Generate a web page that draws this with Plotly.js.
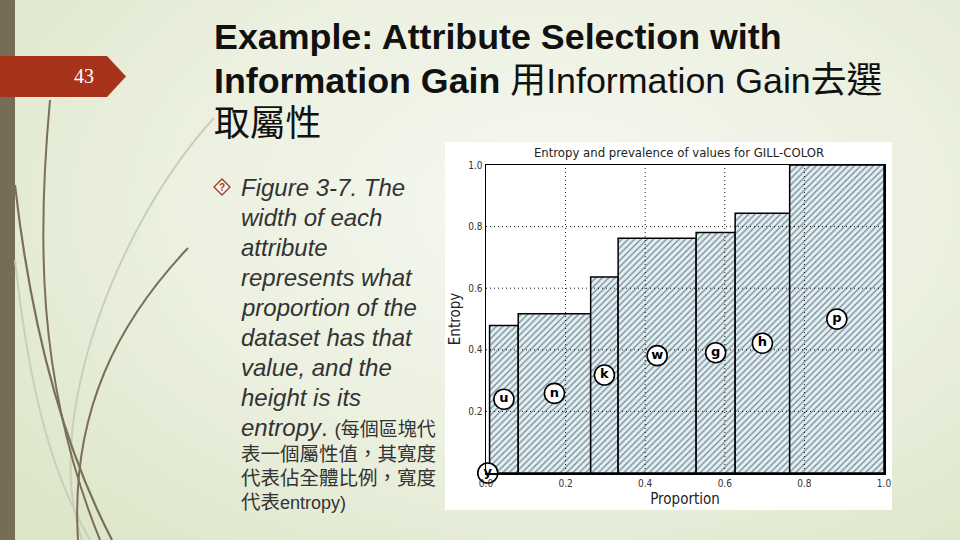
<!DOCTYPE html>
<html>
<head>
<meta charset="utf-8">
<script src="https://cdn.plot.ly/plotly-3.0.1.min.js"></script>
<style>
  html, body { margin: 0; padding: 0; }
  body {
    width: 960px; height: 540px; overflow: hidden;
    background: radial-gradient(ellipse 75% 85% at 58% 38%, #f6f8f0 0%, #ebf0df 55%, #dce5c8 100%);
  }
  #chart { width: 960px; height: 540px; }
</style>
</head>
<body>
<div id="chart"></div>
<script>
// values of GILL-COLOR, their share of the dataset and their entropy
const values = ['y', 'u', 'n', 'k', 'w', 'g', 'h', 'p'];
const proportion = [0.009, 0.072, 0.182, 0.069, 0.196, 0.098, 0.137, 0.237];
const entropy = [0.0, 0.479, 0.517, 0.636, 0.762, 0.781, 0.843, 1.0];

const xTicks = [0, 0.2, 0.4, 0.6, 0.8, 1.0];
const xTickText = ['0.0', '0.2', '0.4', '0.6', '0.8', '1.0'];
const yTicks = [0.2, 0.4, 0.6, 0.8, 1.0];
const yTickText = ['0.2', '0.4', '0.6', '0.8', '1.0'];
const gridVals = [0.2, 0.4, 0.6, 0.8];

const slideTitle = [
  '<b>Example: Attribute Selection with</b>',
  '<b>Information Gain</b> 用Information Gain去選',
  '取屬性'
];
const bodyLines = [
  '<i>Figure 3-7. The</i>',
  '<i>width of each</i>',
  '<i>attribute</i>',
  '<i>represents what</i>',
  '<i>proportion of the</i>',
  '<i>dataset has that</i>',
  '<i>value, and the</i>',
  '<i>height is its</i>',
  '<i>entropy</i>. <span style="font-size:19px">(每個區塊代</span>'
];
const bodyCjk = ['表一個屬性值，其寬度', '代表佔全體比例，寬度', '代表<span style="font-size:18px">entropy)</span>'];

// pixel -> paper helpers (figure is 960x540, no margins)
const X = px => px / 960;
const Y = py => 1 - py / 540;
const pathPx = s => s.replace(/(-?\d+\.?\d*),(-?\d+\.?\d*)/g, (m, a, b) => X(+a) + ',' + Y(+b));

// bar positions come from the running sum of proportions
let acc = 0;
const centers = proportion.map(p => { const c = acc + p / 2; acc += p; return c; });
const labelY = entropy.map(e => e / 2);

const gx = [], gy = [];
gridVals.forEach(v => { gx.push(v, v, null); gy.push(0, 1, null); });
gridVals.forEach(v => { gx.push(0, 1, null); gy.push(v, v, null); });

const narrow = '"Liberation Sans Narrow", "DejaVu Sans Condensed", "Arial Narrow", sans-serif';
const sans = '"Liberation Sans", Arial, "Noto Sans CJK TC", sans-serif';

const bars = {
  type: 'bar',
  x: centers,
  y: entropy,
  width: proportion,
  marker: {
    color: '#e0f0f6',
    pattern: { shape: '/', fgcolor: '#7a8a90', bgcolor: '#e0f0f6', size: 4.5, solidity: 0.3 },
    line: { color: '#000', width: 1.5 }
  },
  hoverinfo: 'skip'
};

const grid = {
  type: 'scatter',
  mode: 'lines',
  x: gx,
  y: gy,
  line: { color: '#111', width: 1, dash: '1px,3px' },
  hoverinfo: 'skip'
};

const labels = {
  type: 'scatter',
  mode: 'markers+text',
  x: centers,
  y: labelY,
  text: values,
  textposition: 'middle center',
  textfont: { family: '"DejaVu Sans", sans-serif', size: 13, weight: 'bold', color: '#000' },
  marker: { size: 20, color: '#fff', line: { color: '#000', width: 1.6 } },
  cliponaxis: false,
  hoverinfo: 'skip'
};

const shapes = [
  // slide decoration
  { type: 'rect', xref: 'paper', yref: 'paper', x0: X(0), x1: X(15), y0: Y(540), y1: Y(0),
    fillcolor: '#776c55', line: { width: 0 }, layer: 'below' },
  { type: 'path', xref: 'paper', yref: 'paper', path: pathPx('M214,118 C120,220 40,420 82,540'),
    line: { color: '#c9cfbb', width: 2 }, layer: 'below' },
  { type: 'path', xref: 'paper', yref: 'paper', path: pathPx('M15,260 C30,400 55,480 90,540'),
    line: { color: '#c9cfbb', width: 2 }, layer: 'below' },
  { type: 'path', xref: 'paper', yref: 'paper', path: pathPx('M50,100 C38,230 35,380 100,540'),
    line: { color: '#7a6f57', width: 2 }, layer: 'below' },
  { type: 'path', xref: 'paper', yref: 'paper', path: pathPx('M15,185 C28,300 55,430 112,540'),
    line: { color: '#7a6f57', width: 2.2 }, layer: 'below' },
  { type: 'path', xref: 'paper', yref: 'paper', path: pathPx('M188,248 C120,320 70,410 78,540'),
    line: { color: '#7a6f57', width: 2 }, layer: 'below' },
  { type: 'path', xref: 'paper', yref: 'paper', path: pathPx('M0,56 L107,56 L126,76.5 L107,97 L0,97 Z'),
    fillcolor: '#a8331b', line: { width: 0 }, layer: 'below' },
  // bullet
  { type: 'path', xref: 'paper', yref: 'paper', path: pathPx('M222,179 L230,187 L222,195 L214,187 Z'),
    fillcolor: '#fdf3ee', line: { color: '#9b3b26', width: 1.3 }, layer: 'below' },
  // white picture frame behind the chart
  { type: 'rect', xref: 'paper', yref: 'paper', x0: X(445), x1: X(892), y0: Y(510), y1: Y(142),
    fillcolor: '#ffffff', line: { width: 0 }, layer: 'below' }
];

const annotations = [
  { text: '43', x: X(84), y: Y(76), font: { family: '"Liberation Serif", serif', size: 20, color: '#fff' } },
  { text: '?', x: X(222), y: Y(187.5), font: { family: sans, size: 10, color: '#9b3b26', weight: 'bold' } }
];
const titleY = [37, 81, 124];
slideTitle.forEach((t, i) => annotations.push({
  text: t, x: X(212), y: Y(titleY[i]), xanchor: 'left',
  font: { family: sans, size: 35.8, color: '#111' }
}));
bodyLines.forEach((t, i) => annotations.push({
  text: t, x: X(239), y: Y(187 + 30 * i), xanchor: 'left',
  font: { family: sans, size: 24, color: '#333' }
}));
const cjkY = [454, 478, 502];
bodyCjk.forEach((t, i) => annotations.push({
  text: t, x: X(239), y: Y(cjkY[i]), xanchor: 'left',
  font: { family: sans, size: 19.5, color: '#333' }
}));
annotations.forEach(a => {
  a.xref = 'paper'; a.yref = 'paper'; a.showarrow = false;
  if (!a.xanchor) a.xanchor = 'center';
  a.yanchor = 'middle';
});

const layout = {
  width: 960,
  height: 540,
  margin: { l: 0, r: 0, t: 0, b: 0 },
  paper_bgcolor: 'rgba(0,0,0,0)',
  plot_bgcolor: '#ffffff',
  showlegend: false,
  bargap: 0,
  title: {
    text: 'Entropy and prevalence of values for GILL-COLOR',
    x: X(679), y: Y(152), xanchor: 'center', yanchor: 'middle',
    font: { family: narrow, size: 13, color: '#222' }
  },
  xaxis: {
    domain: [X(486), X(884)],
    range: [0, 1],
    tickvals: xTicks,
    ticktext: xTickText,
    ticks: '',
    showgrid: false,
    zeroline: false,
    showline: true,
    mirror: true,
    linecolor: '#000',
    linewidth: 1.5,
    tickfont: { family: narrow, size: 10, color: '#333' },
    title: { text: 'Proportion', font: { family: narrow, size: 15, color: '#222' }, standoff: 6 },
    fixedrange: true
  },
  yaxis: {
    domain: [Y(473), Y(165)],
    range: [0, 1],
    tickvals: yTicks,
    ticktext: yTickText,
    ticks: '',
    showgrid: false,
    zeroline: false,
    showline: true,
    mirror: true,
    linecolor: '#000',
    linewidth: 1.5,
    tickfont: { family: narrow, size: 10, color: '#333' },
    title: { text: 'Entropy', font: { family: narrow, size: 15, color: '#222' }, standoff: 4 },
    fixedrange: true
  },
  shapes: shapes,
  annotations: annotations
};

Plotly.newPlot('chart', [bars, grid, labels], layout, { displayModeBar: false, staticPlot: true });
</script>
</body>
</html>
